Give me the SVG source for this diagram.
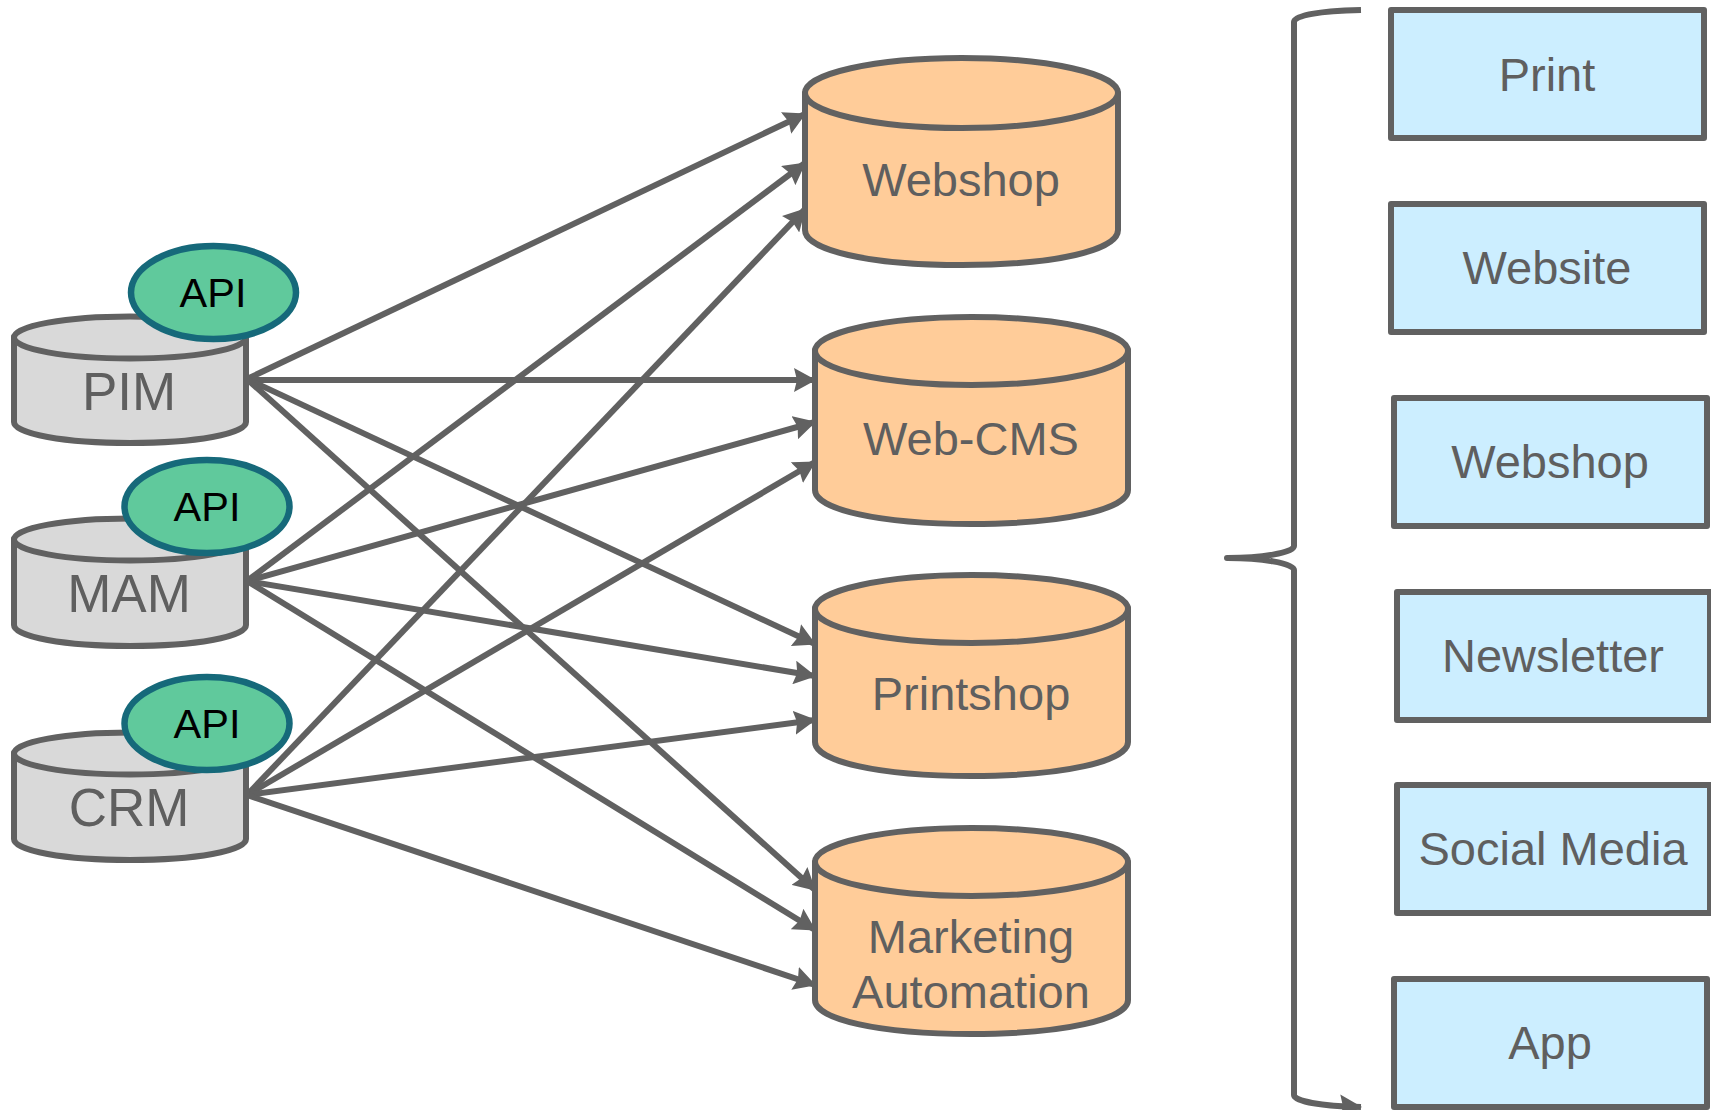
<svg xmlns="http://www.w3.org/2000/svg" width="1711" height="1110" viewBox="0 0 1711 1110">
<style>
text{font-family:"Liberation Sans",Arial,sans-serif;fill:#5f5f5f;text-anchor:middle}
.g{fill:#d9d9d9}.o{fill:#ffcc99}
.c path,.c ellipse{stroke:#616161;stroke-width:6;stroke-linejoin:round}
.api ellipse{fill:#60c99c;stroke:#16697a;stroke-width:6.5}
.api text{fill:#000;font-size:41.500px}
.b rect{fill:#cceeff;stroke:#616161;stroke-width:6;stroke-linejoin:round}
.b text{font-size:47px}
.l text{font-size:53px}
.m text{font-size:47px}
#conn line,#conn path{fill:none;stroke:#616161;stroke-width:6}
</style>
<defs>
<marker id="a" markerUnits="userSpaceOnUse" markerWidth="22" markerHeight="24" refX="21" refY="12" orient="auto"><path d="M0 0L22 12L0 24L3 12Z" fill="#616161"/></marker>
</defs>
<g id="conn">
<line x1="247" y1="379" x2="805" y2="114" marker-end="url(#a)"/>
<line x1="247" y1="380" x2="815" y2="380" marker-end="url(#a)"/>
<line x1="247" y1="379" x2="815" y2="644" marker-end="url(#a)"/>
<line x1="247" y1="379" x2="815" y2="890" marker-end="url(#a)"/>
<line x1="247" y1="581" x2="805" y2="163" marker-end="url(#a)"/>
<line x1="247" y1="581" x2="815" y2="422" marker-end="url(#a)"/>
<line x1="247" y1="581" x2="815" y2="676" marker-end="url(#a)"/>
<line x1="247" y1="581" x2="815" y2="930" marker-end="url(#a)"/>
<line x1="247" y1="795" x2="805" y2="209" marker-end="url(#a)"/>
<line x1="247" y1="795" x2="815" y2="462" marker-end="url(#a)"/>
<line x1="247" y1="795" x2="815" y2="720" marker-end="url(#a)"/>
<line x1="247" y1="795" x2="815" y2="985" marker-end="url(#a)"/>
<path d="M1361 10C1320 11 1294 15 1294 22V546C1294 553 1260 558 1228 558C1260 558 1294 563 1294 570V1095C1294 1101 1320 1106 1361 1107" marker-end="url(#a)"/>
<path d="M1227 558h1" stroke-linecap="round"/>
</g>
<g id="webshop" class="c m"><path class="o" d="M805 93V230C805 250 868 265 962 265S1118 250 1118 230V93Z"/><ellipse class="o" cx="961.500" cy="93" rx="156.500" ry="35"/><text x="961" y="196">Webshop</text></g>
<g id="webcms" class="c m"><path class="o" d="M815 350V490C815 509 878 524 971 524S1128 509 1128 490V350Z"/><ellipse class="o" cx="971.500" cy="351" rx="156.500" ry="34"/><text x="971" y="455">Web-CMS</text></g>
<g id="printshop" class="c m"><path class="o" d="M815 608V742C815 761 878 776 971 776S1128 761 1128 742V608Z"/><ellipse class="o" cx="971.500" cy="609" rx="156.500" ry="34"/><text x="971" y="710">Printshop</text></g>
<g id="marketing" class="c m"><path class="o" d="M815 862V1000C815 1019 878 1034 971 1034S1128 1019 1128 1000V862Z"/><ellipse class="o" cx="971.500" cy="862" rx="156.500" ry="34"/><text x="971" y="953">Marketing</text><text x="971" y="1008">Automation</text></g>
<g id="pim" class="c l"><path class="g" d="M14 337V422C14 434 65 443 130 443S246 434 246 422V337Z"/><ellipse class="g" cx="130" cy="337.500" rx="116" ry="21"/><text x="129" y="410">PIM</text></g>
<g id="mam" class="c l"><path class="g" d="M14 539V625C14 637 65 646 130 646S246 637 246 625V539Z"/><ellipse class="g" cx="130" cy="539.500" rx="116" ry="21"/><text x="129" y="612">MAM</text></g>
<g id="crm" class="c l"><path class="g" d="M14 753V839C14 851 65 860 130 860S246 851 246 839V753Z"/><ellipse class="g" cx="130" cy="753.500" rx="116" ry="21"/><text x="129" y="826">CRM</text></g>
<g id="api1" class="api"><ellipse cx="213.500" cy="292.500" rx="82.500" ry="46.500"/><text x="213" y="307">API</text></g>
<g id="api2" class="api"><ellipse cx="207" cy="506.500" rx="82.500" ry="46.500"/><text x="207" y="521">API</text></g>
<g id="api3" class="api"><ellipse cx="207" cy="723.500" rx="82.500" ry="46.500"/><text x="207" y="738">API</text></g>
<g id="print" class="b"><rect x="1391" y="10" width="313" height="128"/><text x="1547" y="91">Print</text></g>
<g id="website" class="b"><rect x="1391" y="204" width="313" height="128"/><text x="1547" y="284">Website</text></g>
<g id="webshop2" class="b"><rect x="1394" y="398" width="313" height="128"/><text x="1550" y="478">Webshop</text></g>
<g id="newsletter" class="b"><rect x="1397" y="592" width="313" height="128"/><text x="1553" y="672">Newsletter</text></g>
<g id="social" class="b"><rect x="1397" y="785" width="313" height="128"/><text x="1553" y="865">Social Media</text></g>
<g id="app" class="b"><rect x="1394" y="979" width="313" height="128"/><text x="1550" y="1059">App</text></g>
</svg>
